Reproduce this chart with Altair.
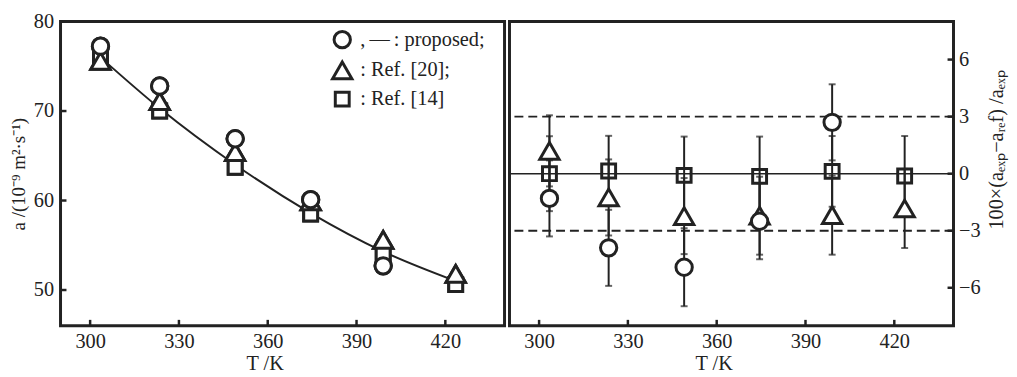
import altair as alt
import pandas as pd

# ---------------- data ----------------
T = [303.5, 323.5, 349.0, 374.5, 399.0, 423.5]
a_proposed = [77.25, 72.8, 66.9, 60.1, 52.7]
a_ref20 = [75.6, 71.1, 65.4, 59.9, 55.6, 51.8]
a_ref14 = [76.2, 70.0, 63.7, 58.5, 54.1, 50.6]
curve_a = [76.0, 70.3, 64.0, 58.6, 54.3, 51.0]

dev_proposed = [-1.3, -3.9, -4.92, -2.5, 2.7]
err_proposed = [2.0, 2.0, 2.05, 2.0, 2.0]
dev_ref20 = [1.2, -1.25, -2.23, -2.21, -2.18, -1.83]
err_ref20 = [1.87, 2.0, 2.0, 2.05, 2.08, 2.08]
dev_ref14 = [0.0, 0.14, -0.09, -0.14, 0.12, -0.12]
err_ref14 = [1.97, 1.85, 2.04, 2.09, 1.86, 2.1]

x_ticks = [300, 330, 360, 390, 420]
yl_ticks = [50, 60, 70, 80]
yr_ticks = [-6, -3, 0, 3, 6]
limits = [-3, 3]

SER = ["proposed", "ref20", "ref14"]
TRI = "M0,-1.02L1.18,1.02L-1.18,1.02Z"
SQR = "M-0.85,-0.85H0.85V0.85H-0.85Z"
SHAPES = ["circle", TRI, SQR]
INK = "#222222"
FONT = "Liberation Serif"
W, H = 448, 307
SYM = 272
FS = 20.5

# ---------------- tables ----------------
left_rows = []
for name, vals in [("ref14", a_ref14), ("ref20", a_ref20), ("proposed", a_proposed)]:
    for t, v in zip(T, vals):
        left_rows.append({"T": t, "a": v, "series": name})
left_df = pd.DataFrame(left_rows)
curve_df = pd.DataFrame({"T": T, "a": curve_a})

right_rows = []
for name, d, e in [("ref14", dev_ref14, err_ref14), ("ref20", dev_ref20, err_ref20),
                   ("proposed", dev_proposed, err_proposed)]:
    for t, v, s in zip(T, d, e):
        right_rows.append({"T": t, "d": v, "lo": v - s, "hi": v + s, "series": name})
right_df = pd.DataFrame(right_rows)

xt_df = pd.DataFrame({"v": x_ticks})
ylt_df = pd.DataFrame({"v": yl_ticks})
yrt_df = pd.DataFrame({"v": yr_ticks})
lim_df = pd.DataFrame({"v": limits})

xscale = alt.Scale(domain=[290, 440], nice=False, zero=False)
yL = alt.Scale(domain=[46, 80], nice=False, zero=False)
yR = alt.Scale(domain=[-8, 8], nice=False, zero=False)

common_axis = dict(tickSize=0, domain=False, grid=False, labelFont=FONT, titleFont=FONT,
                   labelFontSize=FS, titleFontWeight="normal",
                   labelColor=INK, titleColor=INK)

x_axis = alt.Axis(values=x_ticks, title="T /K", labelPadding=6, titlePadding=2,
                  titleX=206, titleFontSize=FS, format="d", **common_axis)
yl_axis = alt.Axis(values=yl_ticks, title="a /(10\u207b\u2079 m\u00b2\u00b7s\u207b\u00b9)",
                   labelPadding=7, titlePadding=5, titleFontSize=19, **common_axis)
yr_axis = alt.Axis(values=yr_ticks, orient="right",
                   title="100\u00d7(a\u2091\u2093\u209a\u2212a\u1d63\u2091f) /a\u2091\u2093\u209a",
                   labelPadding=5, titlePadding=7, titleAngle=270, titleBaseline="top",
                   titleY=129, titleFontSize=FS, **common_axis)

shape_scale = alt.Scale(domain=SER, range=SHAPES)

legend = alt.Legend(
    orient="none", legendX=274, legendY=8, title=None,
    labelExpr="datum.label == 'proposed' ? ',\u2009\u2014\u2009: proposed;' : (datum.label == 'ref20' ? ': Ref. [20];' : ': Ref. [14]')",
    labelFont=FONT, labelFontSize=FS, labelColor=INK, labelOffset=8,
    symbolStrokeWidth=3, symbolStrokeColor=INK,
    symbolSize=SYM, rowPadding=1, symbolOpacity=1,
)

X = alt.X("T:Q", scale=xscale, axis=x_axis)

# ---------------- left panel ----------------
curve = alt.Chart(curve_df).mark_line(color=INK, strokeWidth=2, interpolate="monotone").encode(
    x=X, y=alt.Y("a:Q", scale=yL, axis=yl_axis))
# outline layer (carries the legend), then white-filled markers on top
left_outline = alt.Chart(left_df).mark_point(color=INK, filled=False, strokeWidth=3,
                                             size=SYM, opacity=1).encode(
    x=X,
    y=alt.Y("a:Q", scale=yL, axis=yl_axis),
    shape=alt.Shape("series:N", scale=shape_scale, legend=legend),
)
left_pts = alt.Chart(left_df).mark_point(stroke=INK, fill="white", strokeWidth=3,
                                         size=SYM, opacity=1, fillOpacity=1).encode(
    x=X,
    y=alt.Y("a:Q", scale=yL, axis=yl_axis),
    shape=alt.Shape("series:N", scale=shape_scale, legend=legend),
)
lxt = alt.Chart(xt_df).mark_rule(color=INK, strokeWidth=2.5).encode(
    x=alt.X("v:Q", scale=xscale, axis=x_axis), y=alt.value(H), y2=alt.value(H - 6))
lyt = alt.Chart(ylt_df).mark_rule(color=INK, strokeWidth=2.5).encode(
    y=alt.Y("v:Q", scale=yL, axis=yl_axis), x=alt.value(0), x2=alt.value(6))

left = alt.layer(curve, left_outline, left_pts, lxt, lyt).properties(width=W, height=H)

# ---------------- right panel ----------------
YR = lambda f: alt.Y(f, scale=yR, axis=yr_axis)
zero = alt.Chart(pd.DataFrame({"v": [0]})).mark_rule(color=INK, strokeWidth=1.5).encode(y=YR("v:Q"))
dashed = alt.Chart(lim_df).mark_rule(color=INK, strokeWidth=2, strokeDash=[9, 5]).encode(y=YR("v:Q"))
bars = alt.Chart(right_df).mark_rule(color=INK, strokeWidth=2).encode(
    x=X, y=YR("lo:Q"), y2="hi:Q")
cap_hi = alt.Chart(right_df).mark_tick(color=INK, orient="horizontal", size=7, thickness=2).encode(
    x=X, y=YR("hi:Q"))
cap_lo = alt.Chart(right_df).mark_tick(color=INK, orient="horizontal", size=7, thickness=2).encode(
    x=X, y=YR("lo:Q"))
right_sq = alt.Chart(right_df).transform_filter(alt.datum.series == "ref14").mark_point(
    color=INK, filled=False, strokeWidth=3, size=SYM, opacity=1).encode(
    x=X,
    y=YR("d:Q"),
    shape=alt.Shape("series:N", scale=shape_scale, legend=None),
)
right_pts = alt.Chart(right_df).transform_filter(alt.datum.series != "ref14").mark_point(
    stroke=INK, fill="white", strokeWidth=3, size=SYM, opacity=1, fillOpacity=1).encode(
    x=X,
    y=YR("d:Q"),
    shape=alt.Shape("series:N", scale=shape_scale, legend=None),
)
rxt = alt.Chart(xt_df).mark_rule(color=INK, strokeWidth=2.5).encode(
    x=alt.X("v:Q", scale=xscale, axis=x_axis), y=alt.value(H), y2=alt.value(H - 6))
ryt = alt.Chart(yrt_df).mark_rule(color=INK, strokeWidth=2.5).encode(
    y=YR("v:Q"), x=alt.value(W), x2=alt.value(W - 6))

right = alt.layer(zero, dashed, bars, cap_hi, cap_lo, right_sq, right_pts, rxt, ryt).properties(
    width=W, height=H)

chart = alt.hconcat(left, right, spacing=0).resolve_scale(
    x="independent", y="independent", shape="independent"
).resolve_legend(shape="independent").properties(
    padding={"left": 0, "top": 0, "right": 0, "bottom": 0}
).configure_view(stroke=INK, strokeWidth=3)

chart.save("out.html", embed_options={"renderer": "svg", "actions": False})
